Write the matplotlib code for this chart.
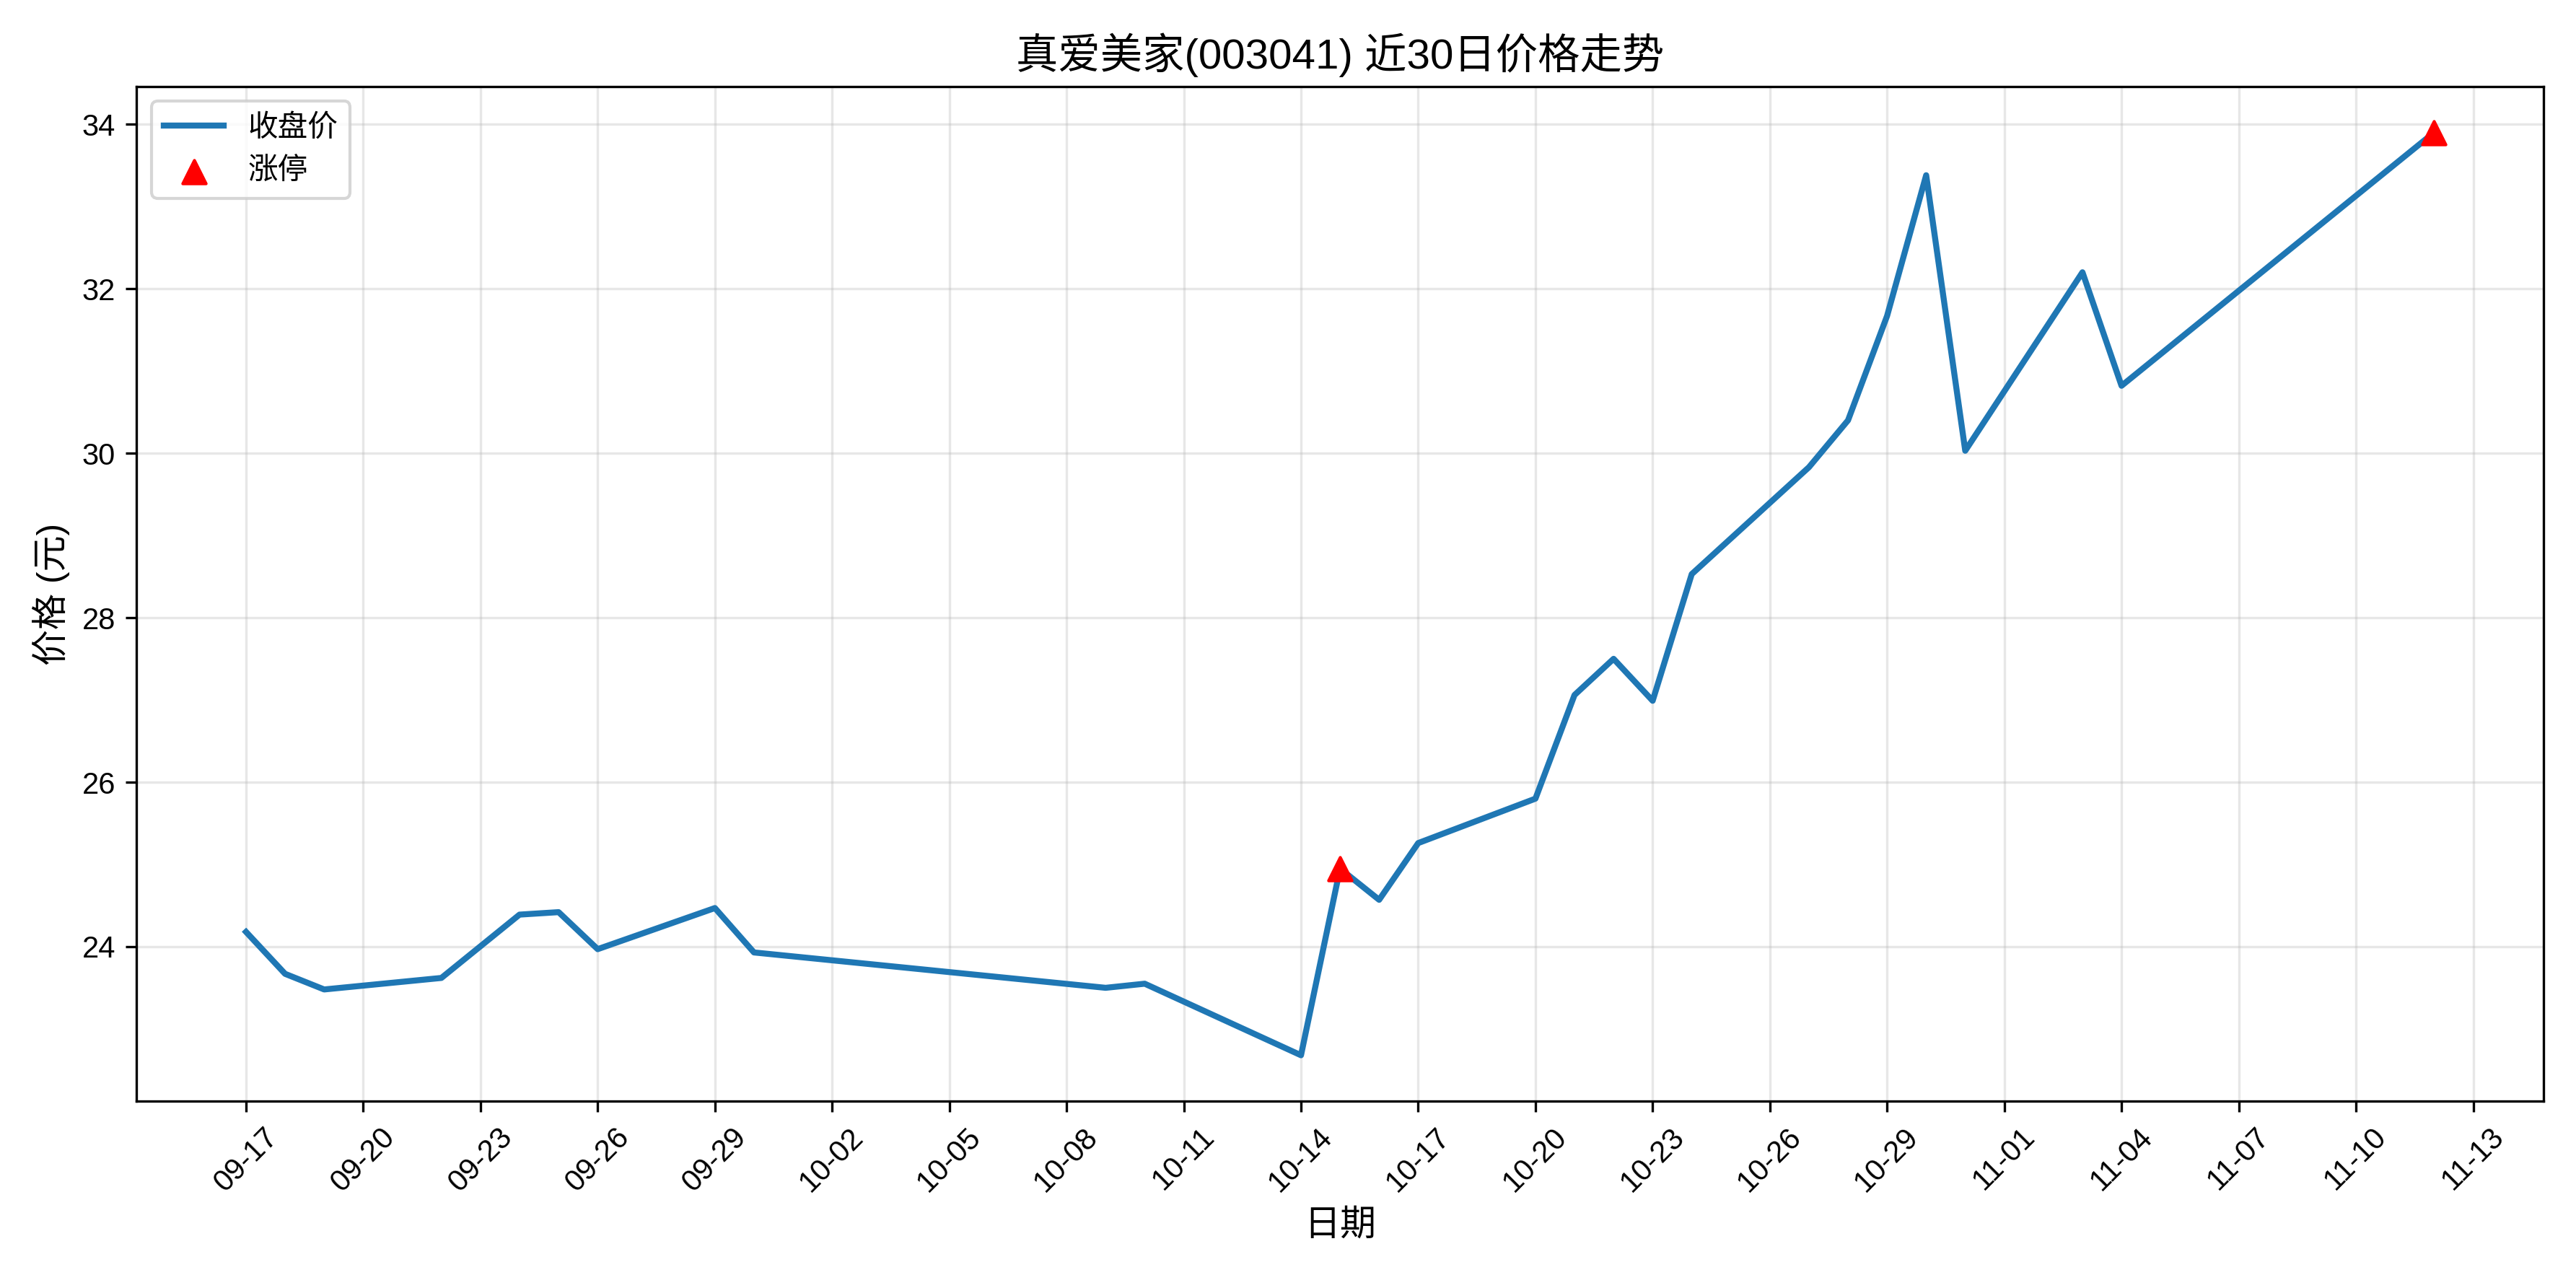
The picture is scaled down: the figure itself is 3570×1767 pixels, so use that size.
import matplotlib
matplotlib.use("Agg")
import matplotlib.pyplot as plt
import matplotlib.dates as mdates
import pandas as pd

plt.rcParams['font.family'] = ['Liberation Sans', 'Noto Sans CJK SC', 'DejaVu Sans']
plt.rcParams['axes.unicode_minus'] = False

dates = ["09-17", "09-18", "09-19", "09-22", "09-24", "09-25", "09-26", "09-29", "09-30",
         "10-09", "10-10", "10-14", "10-15", "10-16", "10-17", "10-20", "10-21", "10-22",
         "10-23", "10-24", "10-27", "10-28", "10-29", "10-30", "10-31", "11-03", "11-04", "11-12"]
close = [24.18, 23.67, 23.48, 23.62, 24.39, 24.42, 23.97, 24.47, 23.93,
         23.50, 23.55, 22.68, 24.95, 24.57, 25.26, 25.80, 27.06, 27.50,
         26.99, 28.53, 29.83, 30.40, 31.67, 33.38, 30.03, 32.20, 30.82, 33.90]
limit_up_dates = ["10-15", "11-12"]
limit_up_prices = [24.95, 33.90]

x = pd.to_datetime(["2025-" + d for d in dates])
xl = pd.to_datetime(["2025-" + d for d in limit_up_dates])

fig, ax = plt.subplots(figsize=(11.9, 5.89), dpi=300)
ax.plot(x, close, color='#1f77b4', linewidth=2, label='收盘价')
ax.scatter(xl, limit_up_prices, color='red', marker='^', s=60, zorder=5, label='涨停')

ax.set_title('真爱美家(003041) 近30日价格走势', fontsize=14)
ax.set_xlabel('日期', fontsize=12)
ax.set_ylabel('价格 (元)', fontsize=12)
ax.xaxis.set_major_formatter(mdates.DateFormatter('%m-%d'))
ticks = pd.date_range("2025-09-17", "2025-11-13", freq="3D")
ax.set_xticks(ticks)
plt.setp(ax.get_xticklabels(), rotation=45)
ax.grid(True, alpha=0.3)
ax.legend(loc='upper left')
plt.tight_layout()
plt.savefig('out.png', dpi=300)
